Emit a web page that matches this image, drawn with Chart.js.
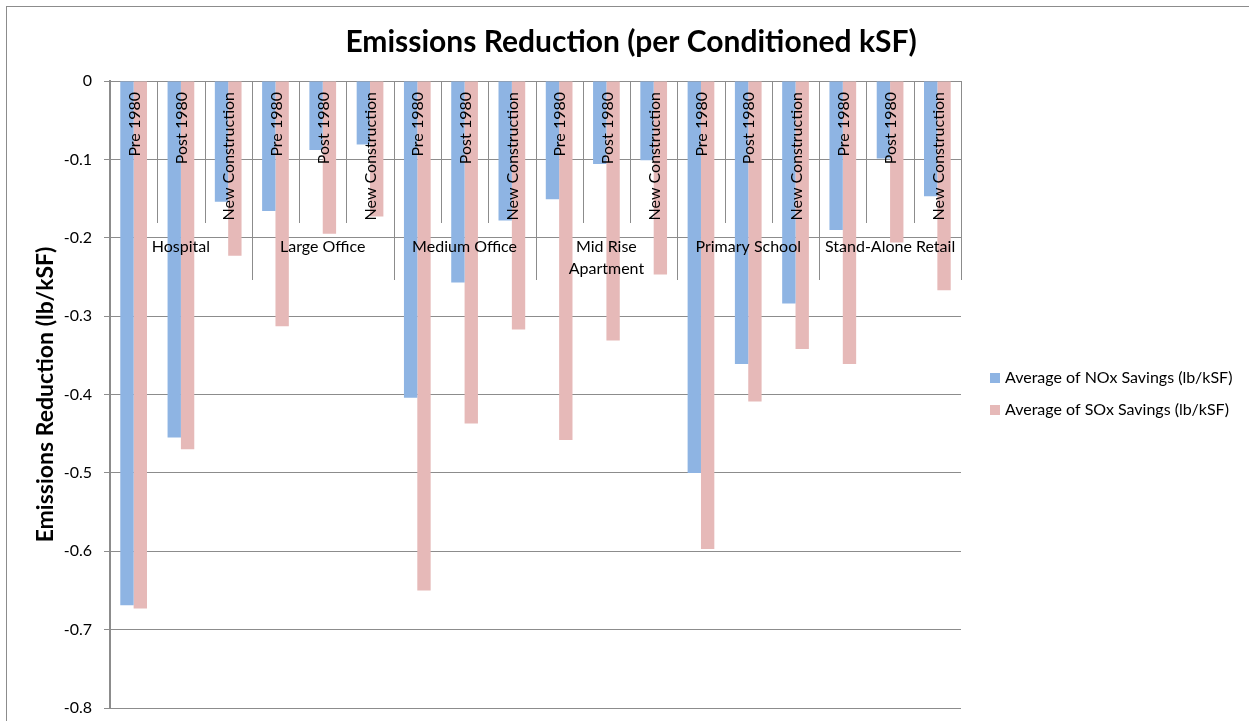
<!DOCTYPE html>
<html>
<head>
<meta charset="utf-8">
<script src="https://cdn.jsdelivr.net/npm/chart.js@4.4.1/dist/chart.umd.min.js"></script>
<style>
  html, body { margin: 0; padding: 0; background: #fff; overflow: hidden; }
  #wrap { position: relative; width: 1249px; height: 721px; }
  #frame { position: absolute; left: 6px; top: 6px; width: 1400px; height: 900px; border: 1px solid #8c8c8c; }
  canvas { position: absolute; left: 0; top: 0; }
</style>
</head>
<body>
<div id="wrap">
  <div id="frame"></div>
  <canvas id="chart" width="1249" height="721"></canvas>
</div>
<script>
const FONT = 'Lato, "Open Sans", sans-serif';

const buildingTypes = ['Hospital', 'Large Office', 'Medium Office', ['Mid Rise', 'Apartment'], 'Primary School', 'Stand-Alone Retail'];
const vintages = ['Pre 1980', 'Post 1980', 'New Construction'];

const noxSavings = [
  -0.669, -0.455, -0.154,
  -0.166, -0.088, -0.081,
  -0.404, -0.257, -0.178,
  -0.151, -0.106, -0.101,
  -0.500, -0.361, -0.284,
  -0.190, -0.099, -0.147
];
const soxSavings = [
  -0.673, -0.470, -0.223,
  -0.313, -0.195, -0.173,
  -0.650, -0.437, -0.317,
  -0.458, -0.331, -0.247,
  -0.597, -0.409, -0.342,
  -0.361, -0.206, -0.267
];
const yTicks = [0, -0.1, -0.2, -0.3, -0.4, -0.5, -0.6, -0.7, -0.8];

const seriesNames = ['Average of NOx Savings (lb/kSF)', 'Average of SOx Savings (lb/kSF)'];
const seriesColors = ['#8eb4e3', '#e6b9b8'];

const labels = [];
buildingTypes.forEach(b => vintages.forEach(v => labels.push(v)));

// category axis sits on the 0 line, Excel style: rotated vintages, then building types
const categoryAxis = {
  id: 'categoryAxis',
  afterDatasetsDraw(chart) {
    const { ctx, scales: { x, y } } = chart;
    const top = y.getPixelForValue(0);
    const n = chart.data.labels.length;
    const half = (x.getPixelForValue(1) - x.getPixelForValue(0)) / 2;
    ctx.save();
    ctx.strokeStyle = '#8c8c8c';
    ctx.lineWidth = 1;
    for (let i = 0; i <= n; i++) {
      const px = Math.round(x.getPixelForValue(i) - half) + 0.5;
      const len = i % 3 === 0 ? 199 : 142;
      ctx.beginPath();
      ctx.moveTo(px, top);
      ctx.lineTo(px, top + len);
      ctx.stroke();
    }
    ctx.fillStyle = '#000';
    ctx.font = '16px ' + FONT;
    for (let i = 0; i < n; i++) {
      const cx = x.getPixelForValue(i);
      ctx.save();
      ctx.translate(cx + 1, top + 11);
      ctx.rotate(-Math.PI / 2);
      ctx.textAlign = 'right';
      ctx.textBaseline = 'middle';
      ctx.fillText(vintages[i % 3], 0, 0);
      ctx.restore();
    }
    ctx.textAlign = 'center';
    ctx.textBaseline = 'middle';
    buildingTypes.forEach((b, g) => {
      const cx = (x.getPixelForValue(g * 3) + x.getPixelForValue(g * 3 + 2)) / 2;
      const lines = Array.isArray(b) ? b : [b];
      lines.forEach((t, k) => ctx.fillText(t, cx, top + 166 + k * 22));
    });
    ctx.restore();
  },
  afterDraw(chart) {
    const { ctx } = chart;
    ctx.save();
    ctx.fillStyle = '#000';
    ctx.font = 'bold 30px ' + FONT;
    ctx.textAlign = 'center';
    ctx.textBaseline = 'middle';
    ctx.fillText('Emissions Reduction (per Conditioned kSF)', 631, 42);
    // legend
    ctx.font = '16px ' + FONT;
    ctx.textAlign = 'left';
    chart.data.datasets.forEach((ds, k) => {
      const cy = 378 + k * 32;
      ctx.fillStyle = ds.backgroundColor;
      ctx.fillRect(990, cy - 5, 10, 10);
      ctx.fillStyle = '#000';
      ctx.fillText(ds.label, 1005, cy);
    });
    ctx.restore();
  }
};

new Chart(document.getElementById('chart'), {
  type: 'bar',
  data: {
    labels: labels,
    datasets: [
      { label: seriesNames[0], data: noxSavings, backgroundColor: seriesColors[0] },
      { label: seriesNames[1], data: soxSavings, backgroundColor: seriesColors[1] }
    ]
  },
  options: {
    responsive: false,
    animation: false,
    layout: { padding: { left: 0, top: 81, right: 288, bottom: 13 } },
    datasets: { bar: { categoryPercentage: 0.565, barPercentage: 1 } },
    plugins: {
      legend: { display: false },
      title: { display: false },
      tooltip: { enabled: false }
    },
    scales: {
      x: { display: false },
      y: {
        min: -0.8,
        max: 0,
        afterBuildTicks: (scale) => { scale.ticks = yTicks.map(v => ({ value: v })); },
        afterFit: (scale) => {
          scale.width = 110;
          scale.paddingTop = 0;
          scale.paddingBottom = 0;
        },
        grid: { color: '#8c8c8c', lineWidth: 1, tickLength: 6 },
        border: { color: '#8c8c8c', width: 2 },
        ticks: {
          color: '#000',
          padding: 12,
          font: { family: FONT, size: 16 },
          callback: (v) => v === 0 ? '0' : v.toFixed(1)
        },
        title: {
          display: true,
          text: 'Emissions Reduction (lb/kSF)',
          color: '#000',
          font: { family: FONT, size: 23, weight: 'bold' },
          padding: { top: 32, bottom: 0 }
        }
      }
    }
  },
  plugins: [categoryAxis]
});
</script>
</body>
</html>
